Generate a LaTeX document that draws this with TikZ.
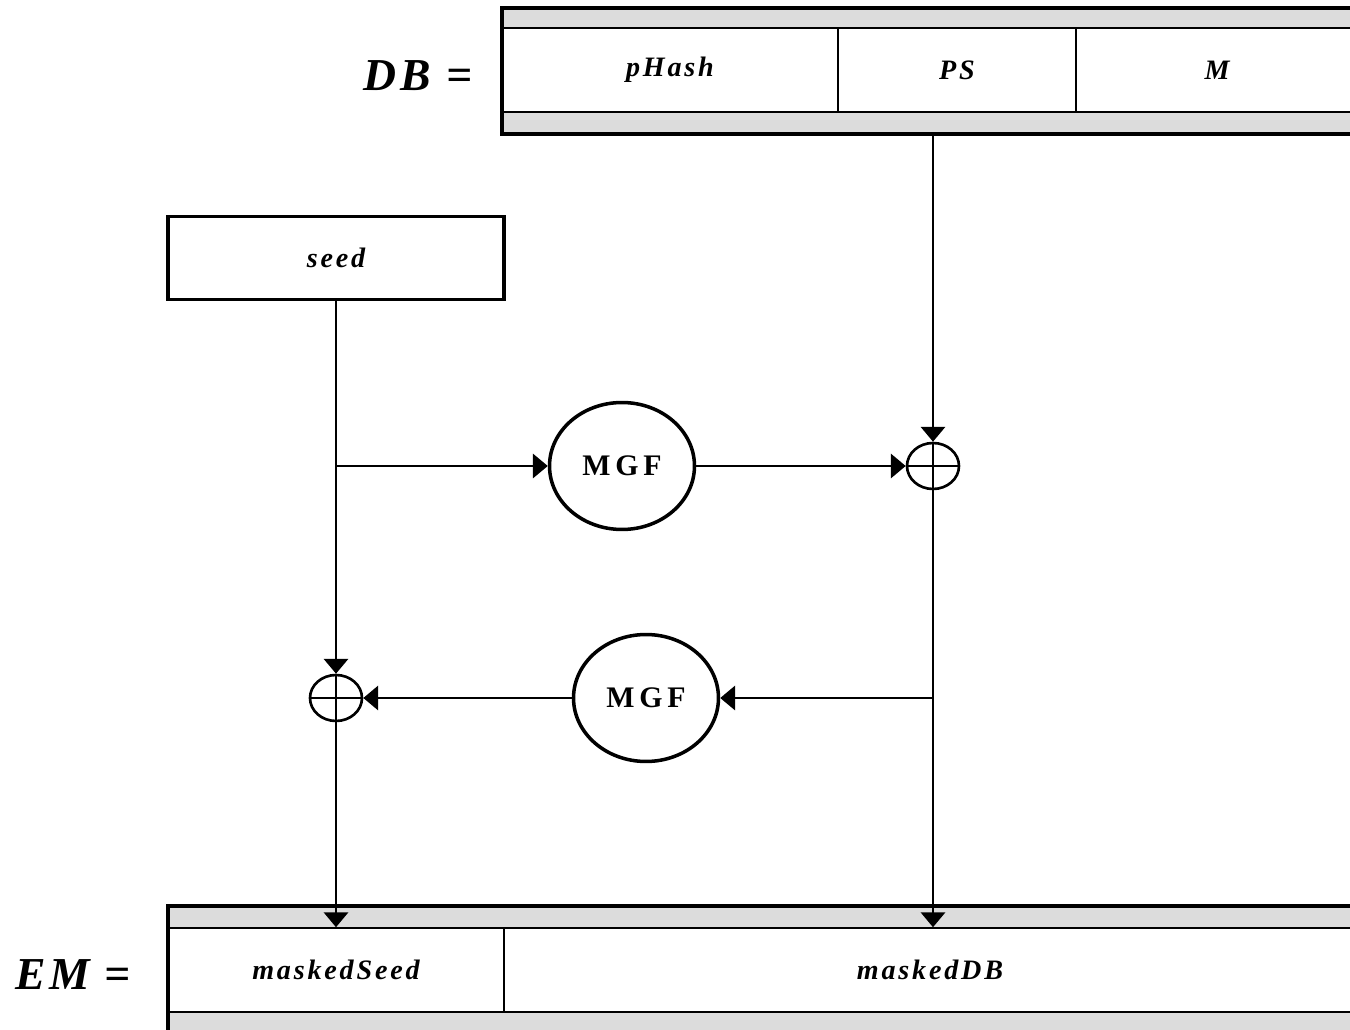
\documentclass[tikz,border=0pt]{standalone}
\usepackage{fontspec}
\setmainfont{Liberation Serif}
\newfontfamily\cellfont[LetterSpace=10]{Liberation Serif}
\newfontfamily\mgffont[LetterSpace=16]{Liberation Serif}
\newfontfamily\tagfont[LetterSpace=8]{Liberation Serif}
\usepackage{tikz}
\usetikzlibrary{arrows.meta, shapes.geometric}
\usepackage{xcolor}
\definecolor{stripgray}{RGB}{220,220,220}
\tikzset{
    % arrow style
    >={Triangle[width=14pt, length=8.5pt]},
    % connector style
    wire/.style = {line width=0.9pt},
    % grey band behind a row of fields
    strip/.style = {fill=stripgray, inner sep=0pt},
    % heavy outline of a row
    rim/.style = {line width=2.3pt},
    % one field of a row
    cell/.style = {
        draw, fill=white, line width=0.9pt,
        minimum height=1.68cm, inner sep=0pt,
        font=\cellfont\fontsize{16}{18}\selectfont\bfseries\itshape
    },
    % stand-alone input box
    inbox/.style = {cell, line width=1.9pt, minimum height=1.66cm},
    % mask generation function
    mgf/.style = {
        draw, ellipse, line width=2pt, fill=white,
        minimum width=2.9cm, minimum height=2.54cm, inner sep=0pt,
        font=\mgffont\fontsize{17}{19}\selectfont\bfseries
    },
    % exclusive or
    xor/.style = {
        draw, ellipse, line width=1.5pt,
        minimum width=1.04cm, minimum height=0.92cm, inner sep=0pt,
        path picture={
            \draw[line width=0.9pt] (path picture bounding box.west) -- (path picture bounding box.east)
                                    (path picture bounding box.north) -- (path picture bounding box.south);
        }
    },
    % row names on the left
    tag/.style = {font=\tagfont\fontsize{26}{30}\selectfont\bfseries\itshape}
}

\begin{document}
\begin{tikzpicture}[x=0.02cm, y=-0.02cm]
        \useasboundingbox (0,0) rectangle (1350,1030);
        \clip (0,0) rectangle (1350,1030);
        % data block
        \node[tag] (dbtag) at (418,76) {DB =};
        \node[strip, minimum width=17.2cm, minimum height=2.52cm] (db) at (932,71) {};
        \node[cell, minimum width=6.72cm] (phash) at (670,70) {pHash};
        \node[cell, minimum width=4.76cm] (ps) at (957,70) {PS};
        \node[cell, minimum width=5.64cm] (msg) at (1217,70) {M};
        \draw[rim] (db.south west) rectangle (db.north east);
        % seed
        \node[inbox, minimum width=6.72cm] (seed) at (336,258) {seed};
        % masking steps
        \node[mgf] (mgf1) at (622,466) {MGF};
        \node[xor] (xor1) at (933,466) {};
        \node[mgf] (mgf2) at (646,698) {MGF};
        \node[xor] (xor2) at (336,698) {};
        % encoded message
        \node[tag] (emtag) at (73,975) {EM =};
        \node[strip, minimum width=23.88cm, minimum height=2.56cm] (em) at (765,970) {};
        \node[cell, minimum width=6.72cm] (mseed) at (336,970) {maskedSeed};
        \node[cell, minimum width=17.04cm] (mdb) at (930,970) {maskedDB};
        \draw[rim] (em.south west) rectangle (em.north east);
        % branch points
        \coordinate (split) at (seed.south |- mgf1);
        \coordinate (tap) at (xor1 |- mgf2);
        % connectors
        \draw[wire, ->] (seed.south) -- (xor2.north);
        \draw[wire, ->] (split) -- (mgf1);
        \draw[wire, ->] (mgf1) -- (xor1);
        \draw[wire, ->] (db.south -| xor1) -- (xor1.north);
        \draw[wire, ->] (xor1.south) -- (mdb.north -| xor1);
        \draw[wire, ->] (tap) -- (mgf2);
        \draw[wire, ->] (mgf2) -- (xor2);
        \draw[wire, ->] (xor2.south) -- (mseed.north);
    \end{tikzpicture}
\end{document}
